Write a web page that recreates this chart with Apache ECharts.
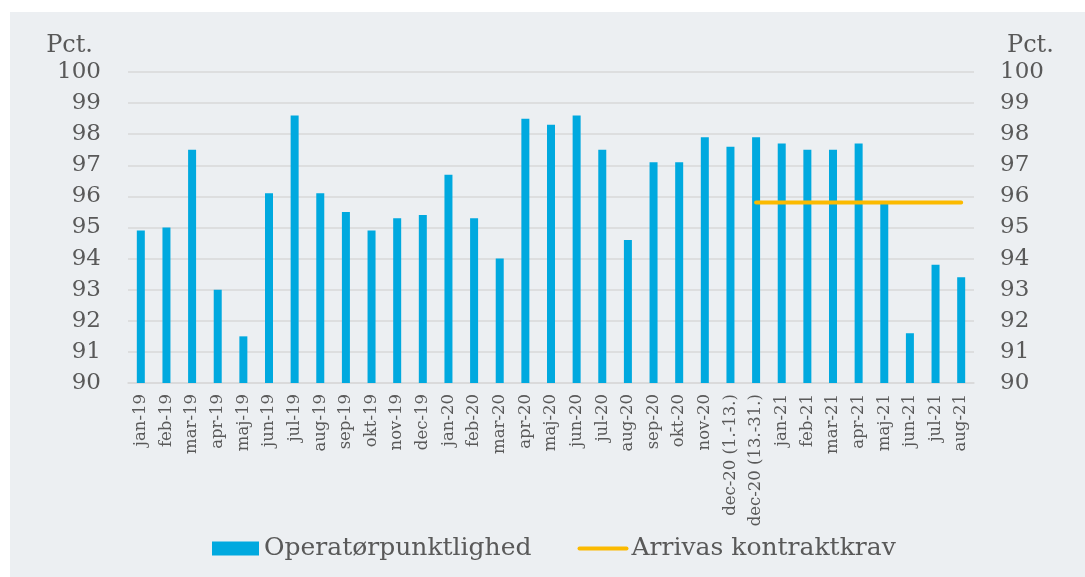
<!DOCTYPE html>
<html>
<head>
<meta charset="utf-8">
<script src="https://cdn.jsdelivr.net/npm/echarts@6/dist/echarts.min.js"></script>
<style>
	body { margin: 0; background: #ffffff; }
	#panel { position: absolute; left: 10px; top: 12px; width: 1075px; height: 565px; background: #ECEFF2; }
	#main { position: absolute; left: 0; top: 0; width: 1085px; height: 577px; }
</style>
</head>
<body>
<div id="panel"></div>
<div id="main"></div>
<script>
var months = ['jan-19','feb-19','mar-19','apr-19','maj-19','jun-19','jul-19','aug-19','sep-19','okt-19','nov-19','dec-19',
	'jan-20','feb-20','mar-20','apr-20','maj-20','jun-20','jul-20','aug-20','sep-20','okt-20','nov-20',
	'dec-20 (1.-13.)','dec-20 (13.-31.)',
	'jan-21','feb-21','mar-21','apr-21','maj-21','jun-21','jul-21','aug-21'];

var punctuality = [94.9, 95.0, 97.5, 93.0, 91.5, 96.1, 98.6, 96.1, 95.5, 94.9, 95.3, 95.4,
	96.7, 95.3, 94.0, 98.5, 98.3, 98.6, 97.5, 94.6, 97.1, 97.1, 97.9,
	97.6, 97.9,
	97.7, 97.5, 97.5, 97.7, 95.8, 91.6, 93.8, 93.4];

var contractReq = [null, null, null, null, null, null, null, null, null, null, null, null,
	null, null, null, null, null, null, null, null, null, null, null,
	null, 95.8,
	95.8, 95.8, 95.8, 95.8, 95.8, 95.8, 95.8, 95.8];

var yMin = 90, yMax = 100, yStep = 1;
var seriesNames = ['Operatørpunktlighed', 'Arrivas kontraktkrav'];

var fontFam = '"DejaVu Serif", serif';
var txtColor = '#595959';
var barColor = '#00A9DF';
var lineColor = '#FBBA00';

var myChart = echarts.init(document.getElementById('main'));

var yAxisCfg = function(pos){
	return {
		type: 'value',
		position: pos,
		min: yMin, max: yMax, interval: yStep,
		name: 'Pct.',
		nameLocation: 'end',
		nameGap: 14,
		nameTextStyle: {
			color: txtColor, fontFamily: fontFam, fontSize: 24,
			align: pos == 'left' ? 'right' : 'left',
			padding: pos == 'left' ? [0, 35, 0, 0] : [0, 0, 0, 33]
		},
		axisLine: { show: false },
		axisTick: { show: false },
		axisLabel: { color: txtColor, fontFamily: fontFam, fontSize: 23, margin: pos == 'left' ? 27 : 26 },
		splitLine: { show: pos == 'left', lineStyle: { color: '#D9D9D9', width: 1.5 } }
	};
};

myChart.setOption({
	animation: false,
	grid: { left: 128, right: 111, top: 72, bottom: 194 },
	legend: {
		data: [
			{ name: seriesNames[0], icon: 'rect' },
			{ name: seriesNames[1], itemStyle: { opacity: 0 }, lineStyle: { width: 4, cap: 'round', color: lineColor } }
		],
		left: 207,
		top: 531,
		itemWidth: 47,
		itemHeight: 14,
		itemGap: 46,
		textStyle: { color: txtColor, fontFamily: fontFam, fontSize: 25 }
	},
	xAxis: {
		type: 'category',
		data: months,
		axisLine: { lineStyle: { color: '#D9D9D9', width: 1.5 } },
		axisTick: { show: false },
		axisLabel: { rotate: 90, interval: 0, color: txtColor, fontFamily: fontFam, fontSize: 16.5, margin: 11 }
	},
	yAxis: [yAxisCfg('left'), yAxisCfg('right')],
	series: [
		{
			name: seriesNames[0],
			type: 'bar',
			data: punctuality,
			barWidth: 8,
			itemStyle: { color: barColor }
		},
		{
			name: seriesNames[1],
			type: 'line',
			data: contractReq,
			symbol: 'none',
			lineStyle: { color: lineColor, width: 4, cap: 'round' },
			itemStyle: { color: lineColor }
		}
	]
});
</script>
</body>
</html>
